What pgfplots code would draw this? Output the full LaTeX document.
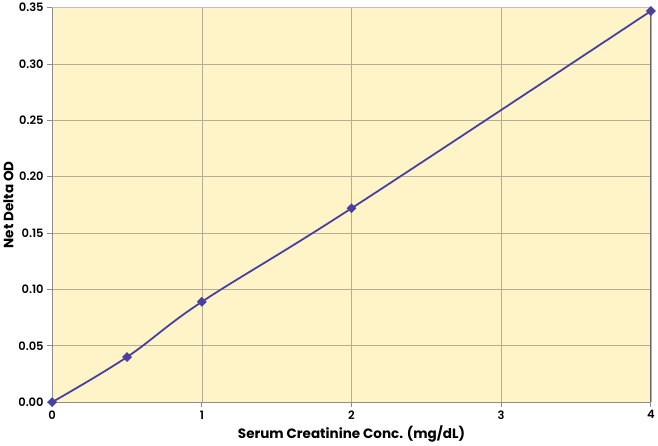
\documentclass[border=0pt]{standalone}
\usepackage{pgfplots}
\pgfplotsset{compat=1.18}
\usepackage{fontspec}
\setmainfont{Poppins}
\definecolor{bgy}{HTML}{FEF4C8}
\definecolor{gridc}{HTML}{B5AE92}
\definecolor{linec}{HTML}{4A40A0}
\definecolor{axc}{HTML}{8C8C8C}
\begin{document}
\begin{tikzpicture}
\begin{axis}[
  scale only axis,
  width=598pt, height=394pt,
  xmin=0, xmax=4, ymin=0, ymax=0.35,
  xtick={0,1,2,3,4},
  ytick={0,0.05,0.1,0.15,0.2,0.25,0.3,0.35},
  yticklabel style={/pgf/number format/.cd,fixed,fixed zerofill,precision=2,assume math mode=true},
  xticklabel style={/pgf/number format/assume math mode=true},
  tick label style={font=\fontsize{11.5}{13}\selectfont\fontspec{Poppins SemiBold}},
  tick align=outside,
  major tick length=5pt,
  tick style={axc, line width=0.8pt},
  axis background/.style={fill=bgy},
  grid=major,
  major grid style={gridc, line width=0.6pt},
  axis line style={axc, line width=1pt},
  axis x line*=bottom, axis y line*=left,
  xlabel={Serum Creatinine Conc. (mg/dL)},
  ylabel={Net Delta OD},
  label style={font=\fontsize{13.5}{15}\selectfont\fontspec{Poppins Bold}},
  xlabel style={yshift=1pt},
  ylabel style={yshift=-2pt},
  clip=false,
]
\draw[gray!50, line width=1pt] (axis cs:0,0.35) -- (axis cs:4,0.35);
\draw[gray!80!black, line width=1pt] (axis cs:4,0) -- (axis cs:4,0.35);
\addplot[linec, line width=1.8pt, smooth, tension=0.6, mark=square*, mark size=2.6pt, mark options={fill=linec, draw=linec, rotate=45}]
coordinates {(0,0) (0.5,0.040) (1,0.089) (2,0.172) (4,0.347)};
\end{axis}
\end{tikzpicture}
\end{document}
